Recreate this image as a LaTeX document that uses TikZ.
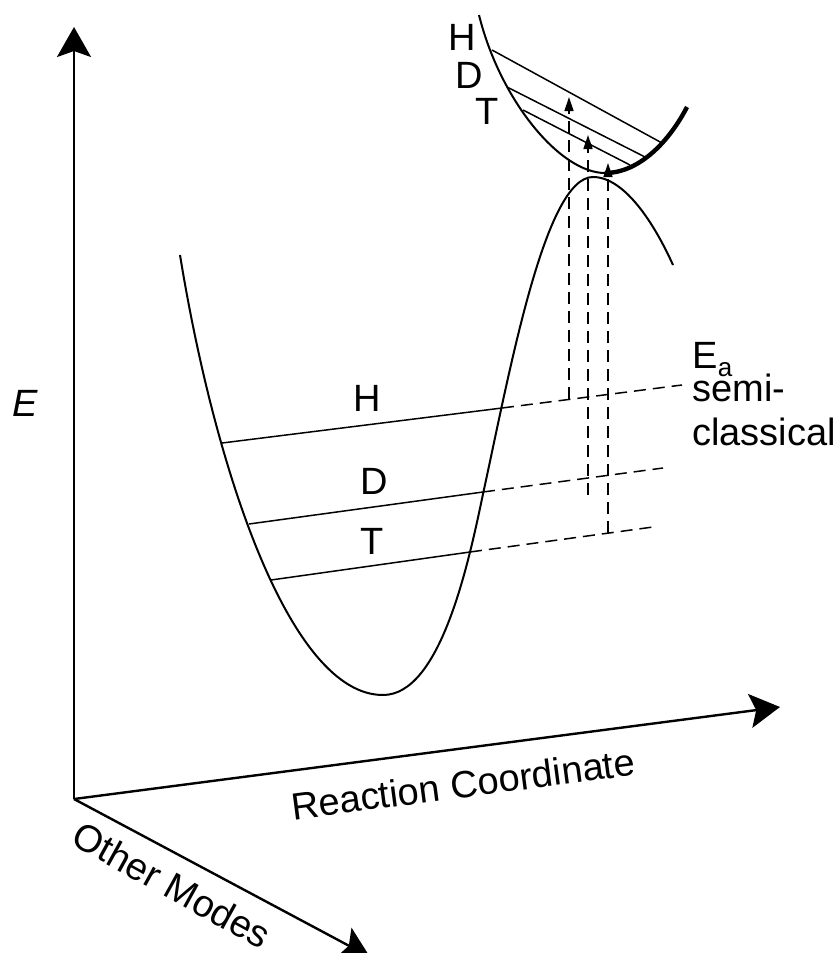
\documentclass[tikz,border=0pt]{standalone}
\usepackage{fontspec}
\setmainfont{Liberation Sans}
\usetikzlibrary{arrows.meta}

\begin{document}
\begin{tikzpicture}[
  x=0.5pt, y=-0.5pt,
  font=\fontsize{19}{23}\selectfont,
  axis/.style={line width=1.2pt, -{Stealth[length=15pt,width=17pt,inset=3pt]}},
  surf/.style={line width=1pt},
  level/.style={line width=0.75pt},
  proj/.style={line width=0.75pt, dash pattern=on 6pt off 3.5pt},
  jump/.style={proj, -{Triangle[length=7pt,width=4.5pt]}},
  lbl/.style={inner sep=0pt},
]
\useasboundingbox (0,0) rectangle (838,953);

% axes
\coordinate (O) at (74,799);
\coordinate (Etip) at (74,27);
\coordinate (RCtip) at (780,707);
\coordinate (OMtip) at (370,957);
\draw[axis] (O) -- (Etip);
\draw[axis] (O) -- (RCtip);
\draw[axis] (O) -- (OMtip);
\node[lbl] (elabel) at (25,403) {\itshape E};
\node[lbl, rotate=7.5] (rclabel) at (463,784) {Reaction Coordinate};
\node[lbl, rotate=-29] (omlabel) at (172,885) {Other Modes};

% reactant well and barrier
\coordinate (wtop) at (180,255);
\coordinate (wmin) at (383,695);
\coordinate (wmid) at (483,494);
\coordinate (ts) at (593,177);
\coordinate (wend) at (673,265);
\draw[surf] (wtop) .. controls (215,470) and (290,695) .. (wmin)
  .. controls (440,695) and (468,566) .. (wmid)
  .. controls (510,370) and (545,177) .. (ts)
  .. controls (625,177) and (655,225) .. (wend);

% upper surface
\coordinate (utop) at (479,15);
\coordinate (umin) at (605,173);
\coordinate (uend) at (687,107);
\draw[surf] (utop) .. controls (500,100) and (560,173) .. (umin);
\draw[line width=2.2pt] (umin) .. controls (640,173) and (670,140) .. (uend);

% zero-point levels in the well
\coordinate (H0) at (222,443);
\coordinate (H1) at (502,408);
\coordinate (H2) at (682,385);
\coordinate (D0) at (249,524);
\coordinate (D1) at (483,492);
\coordinate (D2) at (663,468);
\coordinate (T0) at (271,580);
\coordinate (T1) at (470,552);
\coordinate (T2) at (653,527);
\draw[level] (H0) -- (H1);
\draw[proj] (H1) -- (H2);
\draw[level] (D0) -- (D1);
\draw[proj] (D1) -- (D2);
\draw[level] (T0) -- (T1);
\draw[proj] (T1) -- (T2);
\node[lbl] (hlow) at (367,398) {H};
\node[lbl] (dlow) at (374,481) {D};
\node[lbl] (tlow) at (372,541) {T};

% levels at the transition state
\draw[level] (492,50) -- (662,143);
\draw[level] (507,87) -- (645,157);
\draw[level] (523,110) -- (630,165);
\node[lbl] (hup) at (462,37) {H};
\node[lbl] (dup) at (469,75) {D};
\node[lbl] (tup) at (487,111) {T};

% activation jumps
\coordinate (hj0) at (569,399);
\coordinate (hj1) at (569,97);
\coordinate (dj0) at (588,495);
\coordinate (dj1) at (588,135);
\coordinate (tj0) at (608,533);
\coordinate (tj1) at (608,163);
\draw[jump] (hj0) -- (hj1);
\draw[jump] (dj0) -- (dj1);
\draw[jump] (tj0) -- (tj1);

\node[lbl, anchor=base west] (ea) at (692,368)
  {E\raisebox{-4pt}{\fontsize{13}{15}\selectfont a}};
\node[lbl, anchor=base west] (semi) at (692,401) {semi-};
\node[lbl, anchor=base west] (classical) at (692,445) {classical};
\end{tikzpicture}
\end{document}
